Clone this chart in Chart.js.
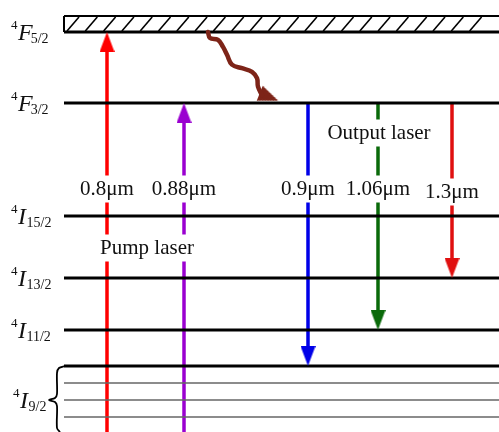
<!DOCTYPE html>
<html><head><meta charset="utf-8">
<script src="https://cdn.jsdelivr.net/npm/chart.js@4.4.1/dist/chart.umd.min.js"></script>
<style>html,body{margin:0;padding:0;background:#fff;overflow:hidden}canvas{display:block}</style>
</head><body>
<canvas id="c" width="499" height="432"></canvas>
<script>
// ---- data (energy axis in arbitrary diagram units, bottom = 0) ----
const levelLetters = ['F', 'F', 'I', 'I', 'I', 'I'];
const levelJ = ['5/2', '3/2', '15/2', '13/2', '11/2', '9/2'];
const levelEnergy = [400, 329, 216, 154, 102, 66];
const bandTopEnergy = 416;                 // top of the 4F5/2 pump band
const groundSublevels = [49, 32, 15];      // Stark sublevels of 4I9/2
const pumpLabels = ['0.8μm', '0.88μm'];
const pumpFrom = [0, 0];                   // energy of start (bottom of diagram)
const pumpTo = [0, 1];                     // level index
const outputLabels = ['0.9μm', '1.06μm', '1.3μm'];
const outputFrom = [1, 1, 1];              // level index
const outputTo = [5, 4, 3];                // level index
const pumpTitle = 'Pump laser';
const outputTitle = 'Output laser';
// non-radiative relaxation 4F5/2 -> 4F3/2 : [x offset, fraction of the way down]
const relaxShape = [[0,0],[2,0.085],[10,0.11],[15,0.21],[19,0.32],[24,0.46],[34,0.51],[44,0.56],[49,0.65],[50,0.77],[54,0.89]];

// ---- layout / style ----
const levelX0 = 64, levelX1 = 499;
const pumpX = [107, 184];
const outputX = [308, 378, 452];
const pumpColors = ['#ff0000', '#9a00d0'];
const outputColors = ['#0000e8', '#0a6a0a', '#e01010'];
const relaxX = 208, relaxColor = '#7d2418';
const wlLabelE = [243, 243, 243, 243, 240];
const pumpTitlePos = [147, 184];
const outputTitlePos = [379, 299];
const headW = 15, headH = 20;
const FONT = '21px "Liberation Serif"';

function headImg(color, w, h) {
  const c = document.createElement('canvas');
  c.width = w; c.height = h;
  const g = c.getContext('2d');
  g.fillStyle = color;
  g.beginPath(); g.moveTo(w / 2, 0); g.lineTo(w, h); g.lineTo(0, h); g.closePath(); g.fill();
  return c;
}

const datasets = [];
function line(points, color, width, order, extra) {
  datasets.push(Object.assign({
    data: points, borderColor: color, borderWidth: width, pointRadius: 0,
    fill: false, tension: 0, order: order, showLine: true
  }, extra || {}));
}

// energy levels
levelEnergy.forEach((e) => line([{x: levelX0, y: e}, {x: levelX1, y: e}], '#000', 3, 1));
// band top + left border
line([{x: levelX0, y: bandTopEnergy}, {x: levelX1, y: bandTopEnergy}], '#000', 2, 1);
line([{x: levelX0, y: levelEnergy[0]}, {x: levelX0, y: bandTopEnergy}], '#000', 2, 1);
// hatching of band
for (let hx = levelX0 + 3; hx < 475; hx += 18.3) {
  line([{x: hx, y: levelEnergy[0] + 1}, {x: hx + 12, y: bandTopEnergy - 1}], '#000', 1.6, 3);
}
// ground-state sublevels
groundSublevels.forEach((e) => line([{x: levelX0, y: e}, {x: levelX1, y: e}], '#666', 1.5, 1));
// brace for 4I9/2
const gE = levelEnergy[5], mid = groundSublevels[1];
line([{x: 65, y: gE}, {x: 59, y: gE - 2}, {x: 57, y: gE - 7}, {x: 57, y: mid + 6}, {x: 55, y: mid + 2},
      {x: 49, y: mid}, {x: 55, y: mid - 2}, {x: 57, y: mid - 6}, {x: 57, y: 4}, {x: 60, y: 0}], '#000', 1.8, 1, {tension: 0.3});

function arrow(x, fromE, toE, color) {
  const dir = toE > fromE ? 1 : -1;
  line([{x: x, y: fromE}, {x: x, y: toE - dir * (headH - 2)}], color, 3.5, 2);
  datasets.push({
    data: [{x: x, y: toE - dir * headH / 2}], pointStyle: headImg(color, headW, headH),
    pointRadius: 5, rotation: dir > 0 ? 0 : 180, showLine: false, order: 0, borderWidth: 0
  });
}
pumpTo.forEach((li, i) => arrow(pumpX[i], pumpFrom[i], levelEnergy[li], pumpColors[i]));
outputTo.forEach((li, i) => arrow(outputX[i], levelEnergy[outputFrom[i]], levelEnergy[li], outputColors[i]));

// relaxation wavy arrow
const eTop = levelEnergy[0], eBot = levelEnergy[1];
line(relaxShape.map(([dx, f]) => ({x: relaxX + dx, y: eTop - f * (eTop - eBot)})), relaxColor, 4.5, 0,
     {tension: 0.4, borderCapStyle: 'round', borderJoinStyle: 'round'});
datasets.push({
  data: [{x: relaxX + 61, y: eBot + 6}], pointStyle: headImg(relaxColor, 16, 20),
  pointRadius: 5, rotation: 112, showLine: false, order: 0, borderWidth: 0
});

const textPlugin = {
  id: 'texts',
  afterDatasetsDraw(chart) {
    const {ctx} = chart;
    const sx = chart.scales.x, sy = chart.scales.y;
    ctx.save();
    ctx.fillStyle = '#111';
    const wl = pumpLabels.concat(outputLabels);
    const wx = pumpX.concat(outputX);
    function boxed(txt, xv, ev) {
      ctx.font = FONT;
      const px = sx.getPixelForValue(xv), py = sy.getPixelForValue(ev);
      const w = ctx.measureText(txt).width;
      ctx.fillStyle = '#fff';
      ctx.fillRect(px - w / 2 - 2, py - 13.5, w + 4, 27);
      ctx.fillStyle = '#111';
      ctx.textAlign = 'center'; ctx.textBaseline = 'middle';
      ctx.fillText(txt, px, py);
    }
    wl.forEach((t, i) => boxed(t, wx[i], wlLabelE[i]));
    boxed(pumpTitle, pumpTitlePos[0], pumpTitlePos[1]);
    boxed(outputTitle, outputTitlePos[0], outputTitlePos[1]);
    // level labels
    ctx.textAlign = 'left'; ctx.textBaseline = 'alphabetic';
    levelLetters.forEach((L, i) => {
      const e = i === 5 ? groundSublevels[1] : levelEnergy[i];
      const py = sy.getPixelForValue(e);
      let px = i === 5 ? 13 : 11;
      ctx.font = '13px "Liberation Serif"';
      ctx.fillText('4', px, py - 3);
      px += ctx.measureText('4').width + 0.5;
      ctx.font = 'italic 24px "Liberation Serif"';
      ctx.fillText(L, px, py + 8);
      px += ctx.measureText(L).width + (L === 'I' ? 0.5 : -2);
      ctx.font = '14px "Liberation Serif"';
      ctx.fillText(levelJ[i], px, py + 11);
    });
    ctx.restore();
  }
};

new Chart(document.getElementById('c'), {
  type: 'scatter',
  data: {datasets: datasets},
  options: {
    responsive: false, animation: false,
    layout: {padding: 0, autoPadding: false},
    plugins: {legend: {display: false}, tooltip: {enabled: false}},
    scales: {
      x: {type: 'linear', min: 0, max: 499, display: false},
      y: {type: 'linear', min: 0, max: 432, display: false}
    }
  },
  plugins: [textPlugin]
});
</script>
</body></html>
